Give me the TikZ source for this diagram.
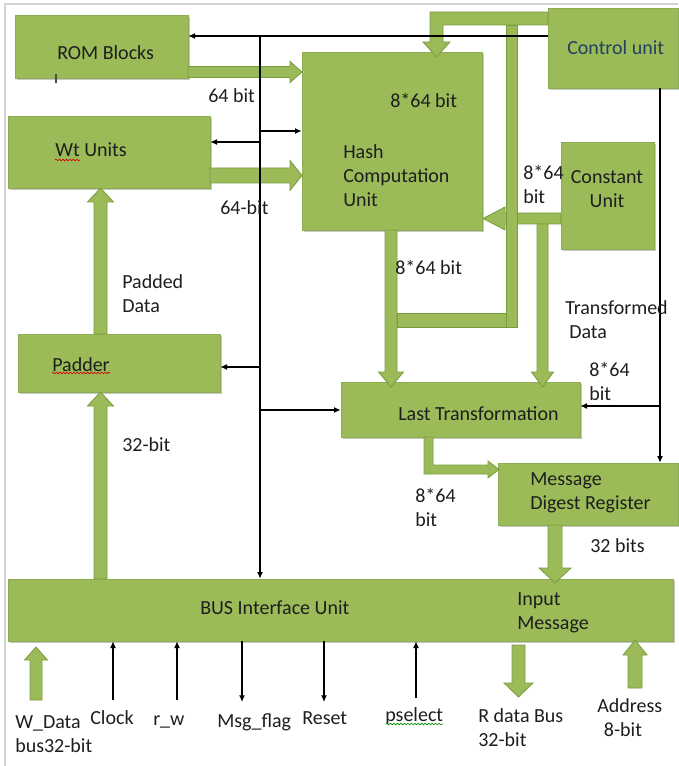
\documentclass[tikz,border=0pt]{standalone}
\usepackage{fontspec}
\setmainfont{Carlito}
\usetikzlibrary{arrows.meta,fit,shadows,decorations.pathmorphing}

\definecolor{boxgreen}{HTML}{9BBB59}
\definecolor{boxedge}{HTML}{8CAE4E}
\definecolor{pipeedge}{HTML}{7A9C40}
\definecolor{ink}{HTML}{1E1E1E}
\definecolor{ctrlink}{HTML}{243F60}
\definecolor{framegray}{HTML}{D4D4D4}

\tikzset{
  box/.style={fill=boxgreen, draw=boxedge, line width=0.5pt, inner sep=0pt,
    drop shadow={shadow xshift=1.2pt, shadow yshift=-1.5pt, opacity=0.22, fill=black}},
  pipe/.style={fill=boxgreen, draw=pipeedge, line width=0.6pt, line join=miter},
  sig/.style={draw=black, line width=0.9pt, -{Latex[length=5pt,width=4.5pt]}},
  lbl/.style={text=ink, inner sep=0pt, anchor=west, align=left,
    font=\fontsize{15}{18}\selectfont},
  squiggle/.style={line width=0.5pt, decorate,
    decoration={snake, amplitude=0.6pt, segment length=2.6pt}},
}

% vertical block arrow: x, tail y, tip y, shaft half width, head half width, head length
\newcommand{\vblock}[6]{%
  \pgfmathsetmacro{\hby}{#3-sign(#3-#2)*#6}%
  \filldraw[pipe] ({#1-#4},#2) -- ({#1-#4},\hby) -- ({#1-#5},\hby) -- (#1,#3)
    -- ({#1+#5},\hby) -- ({#1+#4},\hby) -- ({#1+#4},#2) -- cycle;}
% horizontal block arrow: y, tail x, tip x, shaft half width, head half width, head length
\newcommand{\hblock}[6]{%
  \pgfmathsetmacro{\hbx}{#3-sign(#3-#2)*#6}%
  \filldraw[pipe] (#2,{#1-#4}) -- (\hbx,{#1-#4}) -- (\hbx,{#1-#5}) -- (#3,#1)
    -- (\hbx,{#1+#5}) -- (\hbx,{#1+#4}) -- (#2,{#1+#4}) -- cycle;}

\begin{document}
\begin{tikzpicture}[x=0.75pt, y=-0.75pt]
\useasboundingbox (0,0) rectangle (678,766);

% page frame
\draw[framegray, line width=0.8pt] (5,766) -- (5,4) -- (678,4);

% functional blocks
\node[box, fit={(15,15) (188,78)}] (rom) {};
\node[box, fit={(8,116) (210,188)}] (wt) {};
\node[box, fit={(302,52) (482,230)}] (hash) {};
\node[box, fit={(548,8) (678,88)}] (ctrl) {};
\node[box, fit={(561,142) (654,249)}] (const) {};
\node[box, fit={(18,334) (220,392)}] (padder) {};
\node[box, fit={(341,382) (580,437)}] (lt) {};
\node[box, fit={(498,463) (678,525)}] (mdr) {};
\node[box, fit={(8,579) (673,641)}] (bus) {};

% wide data paths
\hblock{72}{188}{302}{5.5}{10.5}{12}        % ROM -> hash
\hblock{175.5}{210}{302}{7.5}{15}{12}       % Wt -> hash
\vblock{100.5}{334}{188}{6.5}{13}{14}       % padder -> Wt
\vblock{100.5}{579}{392}{6.5}{13}{14}       % bus -> padder
% control unit feed into the hash unit
\filldraw[pipe] (548,12) -- (430,12) -- (430,42) -- (423,42) -- (436.5,57)
  -- (450,42) -- (443,42) -- (443,25) -- (548,25) -- cycle;
% constant unit -> hash unit and down to the last transformation
\hblock{218.5}{561}{483}{5.5}{11.5}{22}
\vblock{542.5}{224}{387}{5.5}{11}{15}
% feedback loop from the control bar
\filldraw[pipe] (397,313) rectangle (517,327);
\filldraw[pipe] (506,25) rectangle (517,327);
% hash unit -> last transformation
\vblock{391}{230}{387}{6}{12.5}{15}
% last transformation -> message digest register
\filldraw[pipe] (424,437) -- (424,474) -- (488,474) -- (488,478) -- (499,469.5)
  -- (488,461) -- (488,465) -- (433,465) -- (433,437) -- cycle;
% message digest register -> bus interface
\vblock{555}{525}{583}{7}{16}{15}
% external bus lines
\vblock{36}{700}{647}{6}{11.5}{13}
\vblock{518.5}{645}{697}{6.5}{14.5}{14}
\vblock{635}{688}{640}{7}{12}{15}

% control signals
\coordinate (jtop) at (260,36);
\draw[sig] (ctrl.west |- jtop) -- (rom.east |- jtop);
\draw[sig] (jtop) -- (jtop |- bus.north);
\coordinate (jhash) at (260,131);
\draw[sig] (jhash) -- (jhash -| hash.west);
\coordinate (jwt) at (260,142);
\draw[sig] (jwt) -- (jwt -| wt.east);
\coordinate (jpad) at (260,367);
\draw[sig] (jpad) -- (jpad -| padder.east);
\coordinate (jlt) at (260,410);
\draw[sig] (jlt) -- (jlt -| lt.west);
\coordinate (cdown) at (660,88);
\draw[sig] (ctrl.south -| cdown) -- (mdr.north -| cdown);
\coordinate (cjlt) at (660,406);
\draw[sig] (cjlt) -- (cjlt -| lt.east);

% bus pins
\coordinate (pclk) at (113,700);
\coordinate (prw) at (177,700);
\coordinate (pmsg) at (242,702);
\coordinate (prst) at (324,702);
\coordinate (psel) at (416,698);
\draw[sig] (pclk) -- (pclk |- bus.south);
\draw[sig] (prw) -- (prw |- bus.south);
\draw[sig] (pmsg |- bus.south) -- (pmsg);
\draw[sig] (prst |- bus.south) -- (prst);
\draw[sig] (psel) -- (psel |- bus.south);

% block names
\node[lbl] (tRom) at (57,53) {ROM Blocks};
\draw[ink!80, line width=0.8pt] (56,74) -- (56,83);
\node[lbl] (tWt) at (55,150) {Wt Units};
\draw[squiggle, red!85!black] (55,160) -- (80,160);
\node[lbl] (tHashBits) at (390,100) {8*64 bit};
\node[lbl] (tHash) at (343,176) {Hash\\Computation\\Unit};
\node[lbl, text=ctrlink] (tCtrl) at (567,48) {Control unit};
\node[lbl, anchor=center, align=center] (tConst) at (607,189) {Constant\\Unit};
\node[lbl] (tPad) at (52,365) {Padder};
\draw[squiggle, red!85!black] (52,373) -- (110,373);
\node[lbl] (tLt) at (398,414) {Last Transformation};
\node[lbl] (tMdr) at (530,493) {Message\\Digest Register};
\node[lbl] (tBus) at (200,608) {BUS Interface Unit};
\node[lbl] (tIn) at (517,613) {Input\\Message};

% path labels
\node[lbl] (l64a) at (208,96) {64 bit};
\node[lbl] (l64b) at (220,208) {64-bit};
\node[lbl] (lconst) at (523,184) {8*64\\bit};
\node[lbl] (lpadded) at (122,294) {Padded\\Data};
\node[lbl] (l32) at (122,445) {32-bit};
\node[lbl] (lhashout) at (395,267) {8*64 bit};
\node[lbl] (ltrans) at (565,320) {Transformed\\\hspace{3pt}Data};
\node[lbl] (lctrl) at (589,381) {8*64\\bit};
\node[lbl] (llt) at (415,507) {8*64\\bit};
\node[lbl] (l32s) at (590,546) {32 bits};

% pin labels
\node[lbl] (nW) at (15,734) {W\_Data\\bus32-bit};
\node[lbl] (nClk) at (90,718) {Clock};
\node[lbl] (nRw) at (153,722) {r\_w};
\node[lbl] (nMsg) at (217,722) {Msg\_flag};
\node[lbl] (nRst) at (302,718) {Reset};
\node[lbl] (nSel) at (385,716) {pselect};
\draw[squiggle, green!55!black] (386,724) -- (443,724);
\node[lbl] (nR) at (478,728) {R data Bus\\32-bit};
\node[lbl] (nAddr) at (597,718) {Address\\\hspace{5pt}8-bit};
\end{tikzpicture}
\end{document}
